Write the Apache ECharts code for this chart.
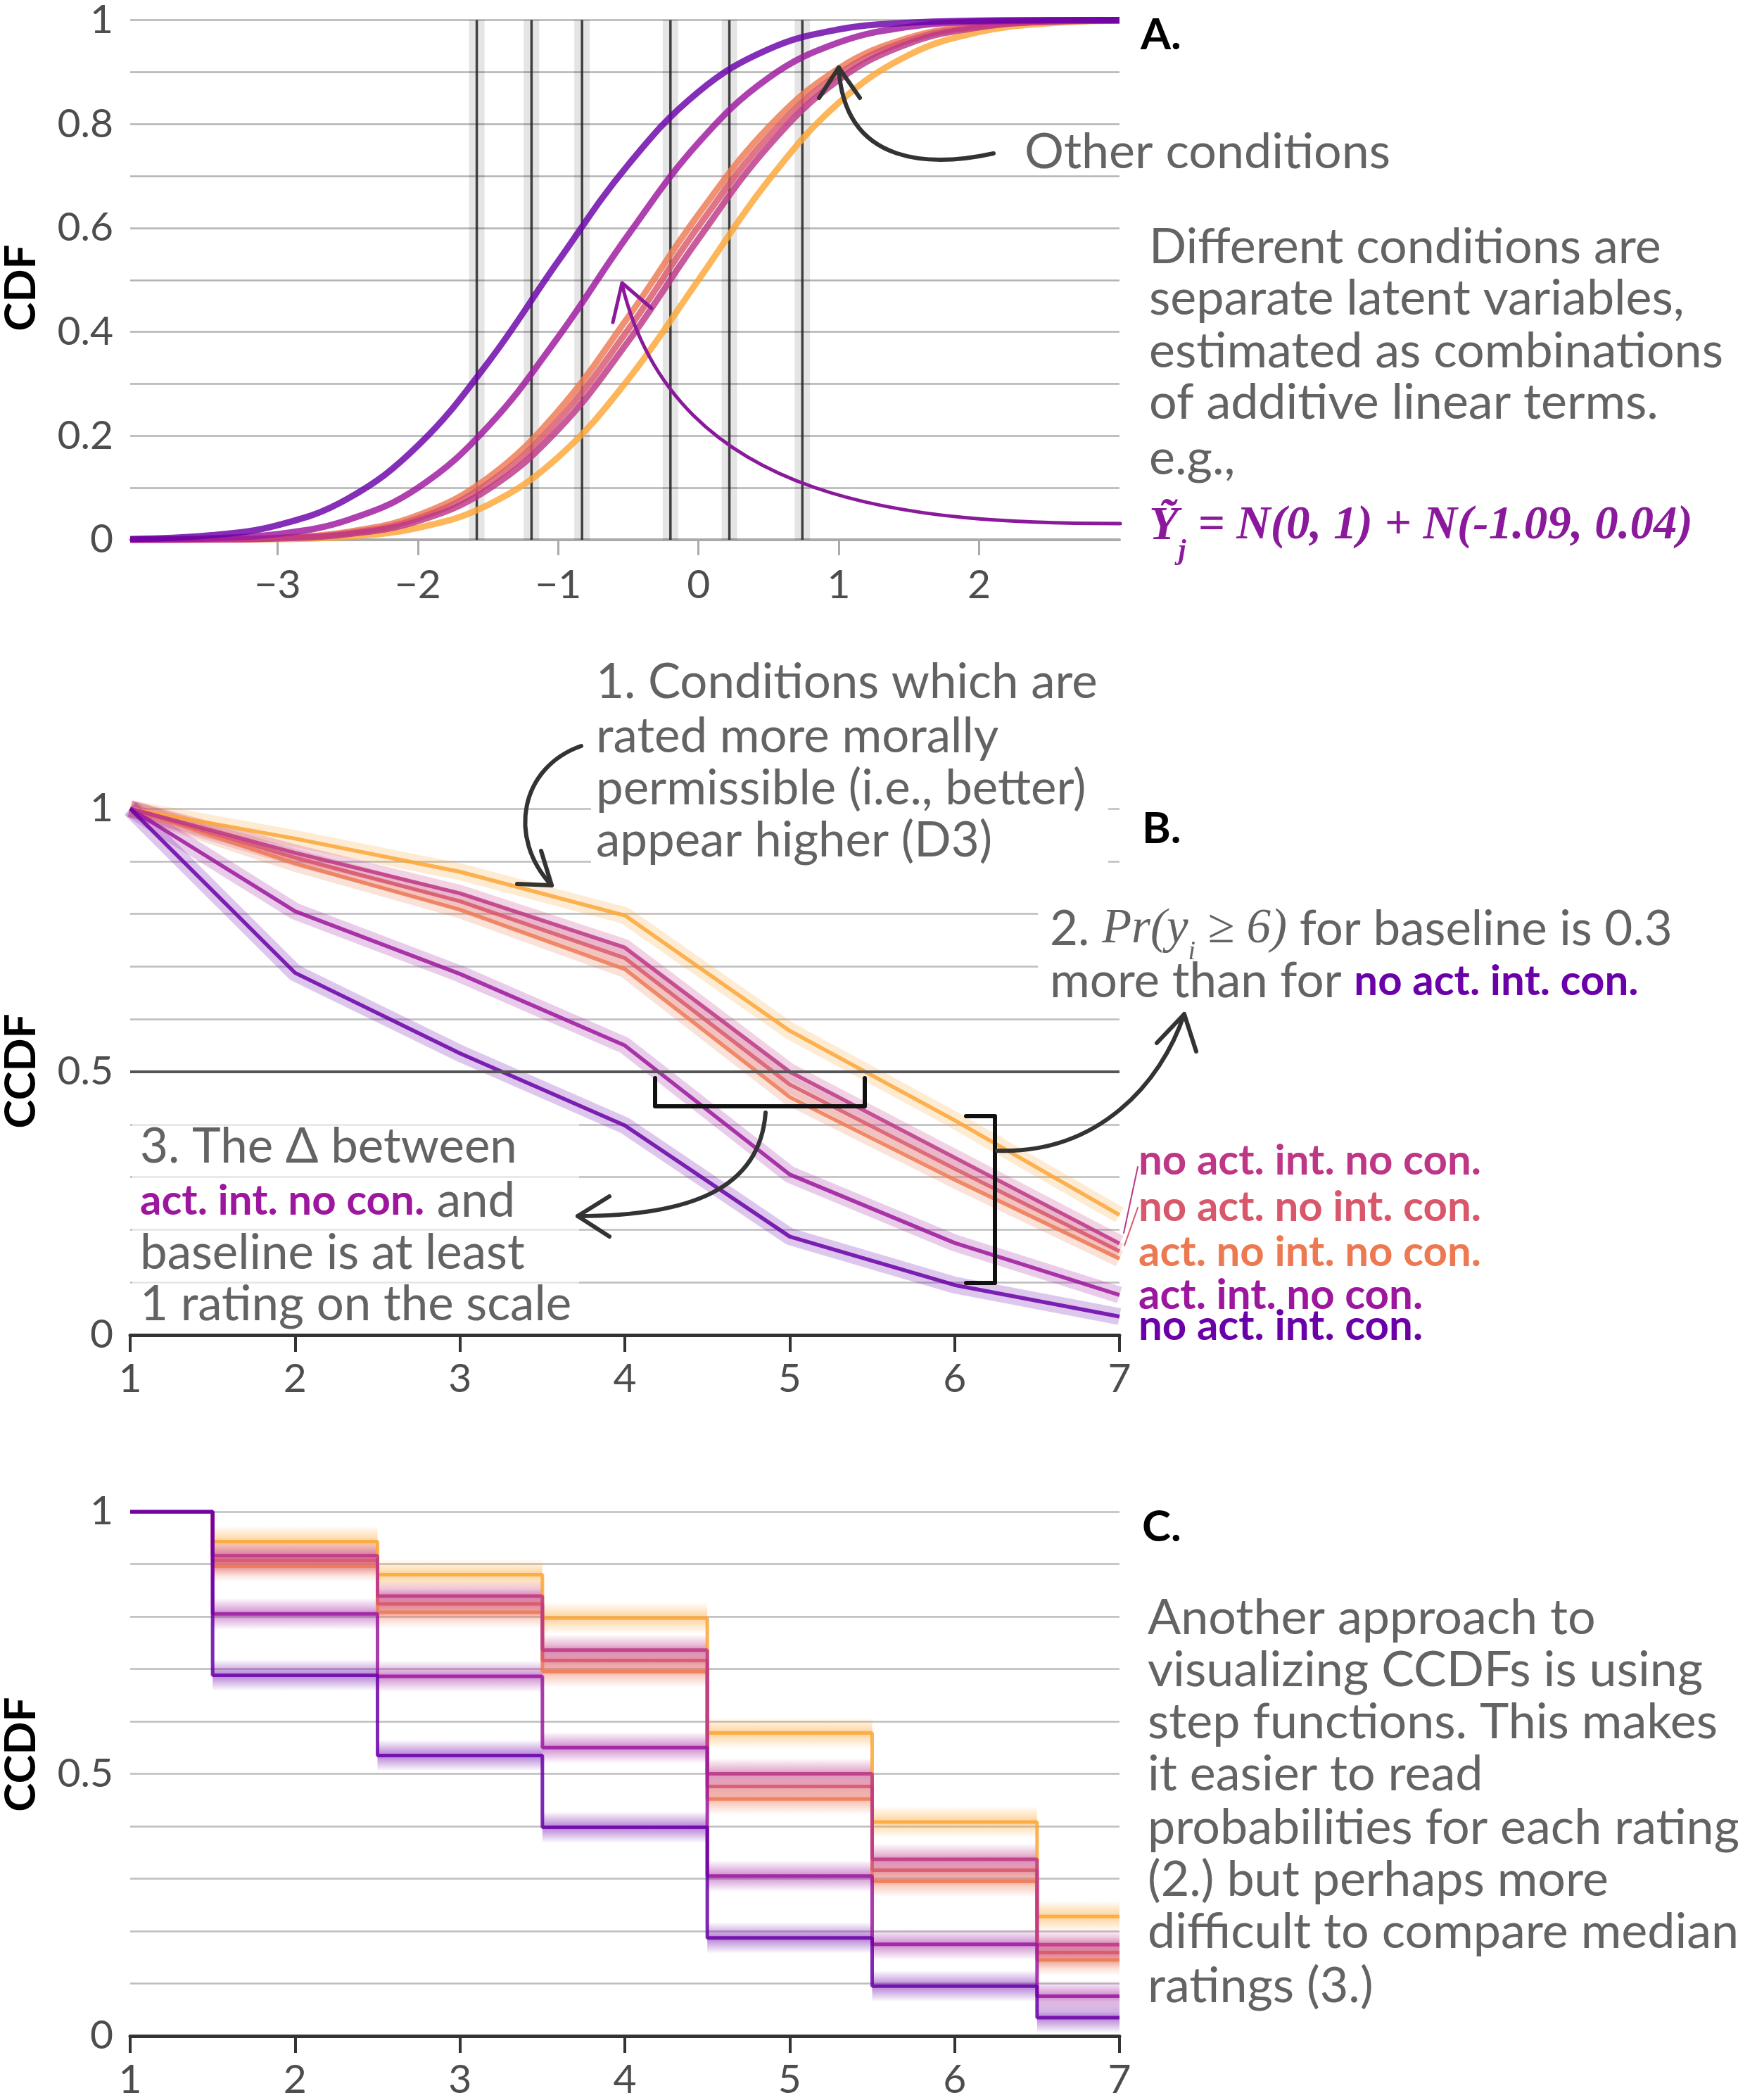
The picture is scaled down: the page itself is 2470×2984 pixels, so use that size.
<!DOCTYPE html>
<html>
<head>
<meta charset="utf-8">
<script src="https://cdn.jsdelivr.net/npm/echarts@6.0.0/dist/echarts.min.js"></script>
<style>
html, body { margin: 0; padding: 0; background: #fff; }
#chart { width: 2470px; height: 2984px; }
</style>
</head>
<body>
<div id="chart"></div>
<script>
// ---- panel A: latent normal CDFs ----
const latentX = [-4.05, -3.5, -3, -2.5, -2, -1.5, -1, -0.5, 0, 0.5, 1, 1.5, 2, 2.5, 3];
const cdfNoActIntCon   = [0.0015, 0.008, 0.028, 0.079, 0.181, 0.341, 0.536, 0.722, 0.862, 0.944, 0.982, 0.995, 0.999, 1.0, 1.0];
const cdfActIntNoCon   = [0.0004, 0.0027, 0.011, 0.038, 0.100, 0.218, 0.390, 0.587, 0.764, 0.889, 0.957, 0.987, 0.997, 0.999, 1.0];
const cdfActNoIntNoCon = [0.0001, 0.0007, 0.0037, 0.015, 0.047, 0.119, 0.248, 0.429, 0.626, 0.794, 0.907, 0.966, 0.990, 0.998, 1.0];
const cdfNoActNoIntCon = [0.0001, 0.0006, 0.0031, 0.0125, 0.041, 0.108, 0.230, 0.405, 0.603, 0.776, 0.896, 0.961, 0.988, 0.997, 0.999];
const cdfNoActIntNoCon = [0.0001, 0.0005, 0.0026, 0.0107, 0.036, 0.097, 0.212, 0.382, 0.579, 0.758, 0.885, 0.955, 0.986, 0.997, 0.999];
const cdfBaseline      = [0.0, 0.0002, 0.0013, 0.0062, 0.023, 0.067, 0.159, 0.309, 0.500, 0.692, 0.841, 0.933, 0.977, 0.994, 0.999];
const thresholds = [-1.58, -1.19, -0.83, -0.20, 0.22, 0.74];
const latentTicks = [-3, -2, -1, 0, 1, 2];
const cdfTicks = [0, 0.2, 0.4, 0.6, 0.8, 1];

// ---- panels B and C: CCDF per rating ----
const ratings = [1, 2, 3, 4, 5, 6, 7];
const ccdfNoActIntCon   = [1, 0.688, 0.535, 0.398, 0.187, 0.095, 0.035];
const ccdfActIntNoCon   = [1, 0.805, 0.686, 0.550, 0.305, 0.175, 0.076];
const ccdfActNoIntNoCon = [1, 0.896, 0.808, 0.695, 0.452, 0.295, 0.145];
const ccdfNoActNoIntCon = [1, 0.907, 0.824, 0.716, 0.476, 0.316, 0.159];
const ccdfNoActIntNoCon = [1, 0.916, 0.839, 0.736, 0.500, 0.337, 0.174];
const ccdfBaseline      = [1, 0.943, 0.880, 0.797, 0.578, 0.408, 0.228];
const ccdfTicks = [0, 0.5, 1];

const conditions = [
  { name: 'baseline', color: '#fca636', cdf: cdfBaseline, ccdf: ccdfBaseline },
  { name: 'act. no int. no con.', color: '#ed7953', cdf: cdfActNoIntNoCon, ccdf: ccdfActNoIntNoCon },
  { name: 'no act. no int. con.', color: '#d8576b', cdf: cdfNoActNoIntCon, ccdf: ccdfNoActNoIntCon },
  { name: 'no act. int. no con.', color: '#bd3786', cdf: cdfNoActIntNoCon, ccdf: ccdfNoActIntNoCon },
  { name: 'act. int. no con.', color: '#9c179e', cdf: cdfActIntNoCon, ccdf: ccdfActIntNoCon },
  { name: 'no act. int. con.', color: '#6a00a8', cdf: cdfNoActIntCon, ccdf: ccdfNoActIntCon }
];

const SANS = 'Lato, "Noto Sans", sans-serif';
const SERIF = '"Liberation Serif", "DejaVu Serif", serif';
const GRAY = '#636363';
const TICK = '#4d4d4d';
const NOTE = 69;   // note text size in B
const PARA = 70;   // paragraph size in A and C
const LBL = 60;    // bold condition labels

function rgba(hex, a) {
  const n = parseInt(hex.slice(1), 16);
  return 'rgba(' + (n >> 16) + ',' + ((n >> 8) & 255) + ',' + (n & 255) + ',' + a + ')';
}

const measureCtx = document.createElement('canvas').getContext('2d');
function textEl(x, y, text, o) {
  o = o || {};
  return {
    type: 'text', x: x, y: y, z: o.z || 20, rotation: o.rotation || 0,
    style: {
      text: text, fill: o.color || GRAY, fontSize: o.size || 60,
      fontWeight: o.weight || 'normal', fontStyle: o.italic ? 'italic' : 'normal',
      fontFamily: o.family || SANS,
      textAlign: o.align || 'left', textVerticalAlign: 'middle',
      align: o.align || 'left', verticalAlign: 'middle'
    }
  };
}
// pieces of text laid out one after another on a line
function runText(x, y, parts) {
  const els = [];
  let cx = x;
  parts.forEach(p => {
    const o = Object.assign({ size: 60, weight: 'normal', family: SANS }, p);
    measureCtx.font = (o.italic ? 'italic ' : 'normal ') + o.weight + ' ' + o.size + 'px ' + o.family;
    els.push(textEl(cx, y + (o.dy || 0), p.text, o));
    cx += measureCtx.measureText(p.text).width;
  });
  return els;
}
function linesEl(x, ys, lines, o) {
  return lines.map((t, i) => textEl(x, ys[i], t, o));
}
function curveEl(p, color, width) {
  return {
    type: 'bezierCurve', z: 15,
    shape: { x1: p[0], y1: p[1], cpx1: p[2], cpy1: p[3], cpx2: p[4], cpy2: p[5], x2: p[6], y2: p[7] },
    style: { stroke: color, lineWidth: width, fill: null, lineCap: 'round' }
  };
}
function polyEl(points, color, width) {
  return {
    type: 'polyline', z: 15, shape: { points: points },
    style: { stroke: color, lineWidth: width, fill: null, lineCap: 'round', lineJoin: 'round' }
  };
}

const grids = [
  { left: 185, top: 21, width: 1406, height: 746 },
  { left: 185, top: 1149, width: 1406, height: 748 },
  { left: 185, top: 2148, width: 1406, height: 748 }
];

const tickLabel = { fontFamily: SANS, fontSize: 57, color: TICK };

const xAxes = [
  {
    gridIndex: 0, type: 'value', min: -4.05, max: 3,
    axisLine: { show: true, lineStyle: { color: '#aaaaaa', width: 4 } },
    axisTick: { show: true, customValues: latentTicks, length: 22, lineStyle: { color: '#aaaaaa', width: 3 } },
    axisLabel: Object.assign({ customValues: latentTicks, margin: 36, formatter: v => String(v).replace('-', '\u2212') }, tickLabel),
    splitLine: { show: false }
  }
];
[1, 2].forEach(g => {
  xAxes.push({
    gridIndex: g, type: 'value', min: 1, max: 7, interval: 1,
    axisLine: { show: true, lineStyle: { color: '#333333', width: 5 } },
    axisTick: { show: true, length: 24, lineStyle: { color: '#333333', width: 4 } },
    axisLabel: Object.assign({ margin: 34 }, tickLabel),
    splitLine: { show: false }
  });
});

const yAxes = [
  {
    gridIndex: 0, type: 'value', min: 0, max: 1, interval: 0.1,
    axisLine: { show: false }, axisTick: { show: false },
    axisLabel: Object.assign({ customValues: cdfTicks, margin: 24, formatter: v => String(+(+v).toFixed(1)) }, tickLabel),
    splitLine: { show: true, lineStyle: { color: '#b3b3b3', width: 2.5 } }
  }
];
[1, 2].forEach(g => {
  yAxes.push({
    gridIndex: g, type: 'value', min: 0, max: 1, interval: 0.1,
    axisLine: { show: false }, axisTick: { show: false },
    axisLabel: Object.assign({ customValues: ccdfTicks, margin: 24, formatter: v => String(+(+v).toFixed(1)) }, tickLabel),
    splitLine: { show: true, lineStyle: { color: '#bdbdbd', width: 2.5 } }
  });
});

const series = [];

// A: cut points with their uncertainty band
series.push({
  type: 'custom', xAxisIndex: 0, yAxisIndex: 0, z: 2, silent: true,
  data: thresholds.map(t => [t, 0]),
  renderItem: (params, api) => {
    const bottom = api.coord([api.value(0), 0]);
    const top = api.coord([api.value(0), 1]);
    return {
      type: 'group', children: [
        { type: 'rect', shape: { x: bottom[0] - 11, y: top[1], width: 22, height: bottom[1] - top[1] }, style: { fill: 'rgba(0,0,0,0.10)' } },
        { type: 'line', shape: { x1: bottom[0], y1: top[1], x2: bottom[0], y2: bottom[1] }, style: { stroke: '#222', lineWidth: 3.5, opacity: 0.85 } }
      ]
    };
  }
});

conditions.forEach(c => {
  series.push({
    type: 'line', xAxisIndex: 0, yAxisIndex: 0, z: 3, silent: true,
    data: latentX.map((x, i) => [x, c.cdf[i]]),
    smooth: 0.4, showSymbol: false,
    lineStyle: { color: c.color, width: 9, opacity: 0.82 }
  });
});

// B: CCDF lines with a soft band
conditions.forEach((c, idx) => {
  const pts = ratings.map((r, i) => [r, c.ccdf[i]]);
  const band = {
    type: 'line', xAxisIndex: 1, yAxisIndex: 1, z: 2, silent: true,
    data: pts, showSymbol: false,
    lineStyle: { color: c.color, width: 24, opacity: 0.22 }
  };
  if (idx === 0) {
    band.markLine = {
      silent: true, symbol: 'none', label: { show: false },
      lineStyle: { color: '#555555', width: 4, type: 'solid' },
      data: [{ yAxis: 0.5 }]
    };
  }
  series.push(band);
  series.push({
    type: 'line', xAxisIndex: 1, yAxisIndex: 1, z: 3, silent: true,
    data: pts, showSymbol: false,
    lineStyle: { color: c.color, width: 5.5, opacity: 0.85 }
  });
});

// C: step functions with band blocks
const bandHalf = 0.03;
conditions.forEach(c => {
  series.push({
    type: 'custom', xAxisIndex: 2, yAxisIndex: 2, z: 2, silent: true,
    data: ratings.slice(1).map((r, i) => [r, c.ccdf[i + 1]]),
    renderItem: (params, api) => {
      const k = api.value(0), v = api.value(1);
      const p0 = api.coord([k - 0.5, v + bandHalf]);
      const p1 = api.coord([Math.min(k + 0.5, 7), v - bandHalf]);
      return {
        type: 'rect',
        shape: { x: p0[0], y: p0[1], width: p1[0] - p0[0], height: p1[1] - p0[1] },
        style: {
          fill: {
            type: 'linear', x: 0, y: 0, x2: 0, y2: 1,
            colorStops: [
              { offset: 0, color: rgba(c.color, 0) },
              { offset: 0.5, color: rgba(c.color, 0.5) },
              { offset: 1, color: rgba(c.color, 0) }
            ]
          }
        }
      };
    }
  });
  series.push({
    type: 'line', xAxisIndex: 2, yAxisIndex: 2, z: 3, silent: true,
    step: 'middle', showSymbol: false,
    data: ratings.map((r, i) => [r, c.ccdf[i]]),
    lineStyle: { color: c.color, width: 5, opacity: 0.85 }
  });
});

// ---- annotations ----
const PURPLE_TXT = '#8a1a9b';
let graphics = [];

// white boxes behind the B notes
graphics.push({ type: 'rect', z: 1, shape: { x: 840, y: 935, width: 735, height: 297 }, style: { fill: '#fff' } });
graphics.push({ type: 'rect', z: 1, shape: { x: 1475, y: 1283, width: 120, height: 140 }, style: { fill: '#fff' } });
graphics.push({ type: 'rect', z: 1, shape: { x: 188, y: 1590, width: 635, height: 290 }, style: { fill: 'rgba(255,255,255,0.6)' } });

// axis titles
graphics.push(textEl(30, 409, 'CDF', { size: 62, weight: 'bold', color: '#000', align: 'center', rotation: Math.PI / 2 }));
graphics.push(textEl(30, 1522, 'CCDF', { size: 62, weight: 'bold', color: '#000', align: 'center', rotation: Math.PI / 2 }));
graphics.push(textEl(30, 2493, 'CCDF', { size: 62, weight: 'bold', color: '#000', align: 'center', rotation: Math.PI / 2 }));

// panel letters
graphics.push(textEl(1621, 50, 'A.', { size: 62, weight: 'bold', color: '#000' }));
graphics.push(textEl(1623, 1178, 'B.', { size: 62, weight: 'bold', color: '#000' }));
graphics.push(textEl(1623, 2170, 'C.', { size: 62, weight: 'bold', color: '#000' }));

// A texts
graphics.push(textEl(1456, 216, 'Other conditions', { size: PARA }));
graphics = graphics.concat(linesEl(1633, [351, 424, 499, 572, 651], [
  'Different conditions are',
  'separate latent variables,',
  'estimated as combinations',
  'of additive linear terms.',
  'e.g.,'
], { size: PARA }));
graphics = graphics.concat(runText(1633, 748, [
  { text: '\u1EF8', family: SERIF, weight: 'bold', italic: true, size: 68, color: PURPLE_TXT },
  { text: 'j', family: SERIF, weight: 'bold', italic: true, size: 40, color: PURPLE_TXT, dy: 36 },
  { text: ' = N(0, 1) + N(-1.09, 0.04)', family: SERIF, weight: 'bold', italic: true, size: 67, color: PURPLE_TXT }
]));

// A arrows
graphics.push(curveEl([1412, 218, 1330, 236, 1200, 240, 1192, 96], '#333', 6));
graphics.push(polyEl([[1164, 139], [1192, 96], [1222, 139]], '#333', 6));
graphics.push(curveEl([1592, 744, 1300, 744, 960, 720, 884, 404], PURPLE_TXT, 5));
graphics.push(polyEl([[871, 458], [884, 402], [926, 438]], PURPLE_TXT, 5));

// B texts
graphics = graphics.concat(linesEl(847, [970, 1047, 1121, 1195], [
  '1. Conditions which are',
  'rated more morally',
  'permissible (i.e., better)',
  'appear higher (D3)'
], { size: NOTE }));
graphics = graphics.concat(runText(1492, 1321, [
  { text: '2. ', size: NOTE },
  { text: 'Pr(y', family: SERIF, italic: true, size: NOTE },
  { text: 'i', family: SERIF, italic: true, size: 38, dy: 32 },
  { text: ' \u2265 6)', family: SERIF, italic: true, size: NOTE },
  { text: ' for baseline is 0.3', size: NOTE }
]));
graphics = graphics.concat(runText(1492, 1395, [
  { text: 'more than for ', size: NOTE },
  { text: 'no act. int. con.', size: LBL, weight: 'bold', color: '#6a00a8' }
]));
graphics.push(textEl(199, 1630, '3. The \u0394 between', { size: NOTE }));
graphics = graphics.concat(runText(199, 1707, [
  { text: 'act. int. no con.', size: LBL, weight: 'bold', color: '#9c179e' },
  { text: ' and', size: NOTE }
]));
graphics.push(textEl(199, 1781, 'baseline is at least', { size: NOTE }));
graphics.push(textEl(199, 1854, '1 rating on the scale', { size: NOTE }));

// B condition labels
const labelYs = [1650, 1716, 1780, 1841, 1885];
const labelConds = [conditions[3], conditions[2], conditions[1], conditions[4], conditions[5]];
labelConds.forEach((c, i) => {
  graphics.push(textEl(1618, labelYs[i], c.name, { size: LBL, weight: 'bold', color: c.color }));
});
graphics.push(polyEl([[1617, 1658], [1597, 1752]], '#bd3786', 2));
graphics.push(polyEl([[1617, 1716], [1598, 1770]], '#d8576b', 2));

// B arrows and brackets
graphics.push(curveEl([826, 1060, 740, 1090, 720, 1190, 784, 1258], '#333', 6));
graphics.push(polyEl([[735, 1256], [784, 1258], [769, 1209]], '#333', 6));
graphics.push(polyEl([[931, 1532], [931, 1572], [1229, 1572], [1229, 1532]], '#111', 6));
graphics.push(curveEl([1088, 1581, 1080, 1690, 980, 1728, 821, 1728], '#333', 6));
graphics.push(polyEl([[866, 1700], [821, 1728], [866, 1757]], '#333', 6));
graphics.push(polyEl([[1373, 1586], [1414, 1586], [1414, 1823], [1373, 1823]], '#111', 6));
graphics.push(curveEl([1417, 1635, 1560, 1640, 1650, 1540, 1683, 1441], '#333', 6));
graphics.push(polyEl([[1644, 1482], [1683, 1441], [1700, 1494]], '#333', 6));

// C text
graphics = graphics.concat(linesEl(1631, [2299, 2373, 2447, 2521, 2597, 2671, 2745, 2822], [
  'Another approach to',
  'visualizing CCDFs is using',
  'step functions. This makes',
  'it easier to read',
  'probabilities for each rating',
  '(2.) but perhaps more',
  'difficult to compare median',
  'ratings (3.)'
], { size: PARA }));

const chart = echarts.init(document.getElementById('chart'), null, { renderer: 'canvas' });
chart.setOption({
  backgroundColor: '#fff',
  animation: false,
  grid: grids,
  xAxis: xAxes,
  yAxis: yAxes,
  series: series,
  graphic: { elements: graphics }
});
</script>
</body>
</html>
